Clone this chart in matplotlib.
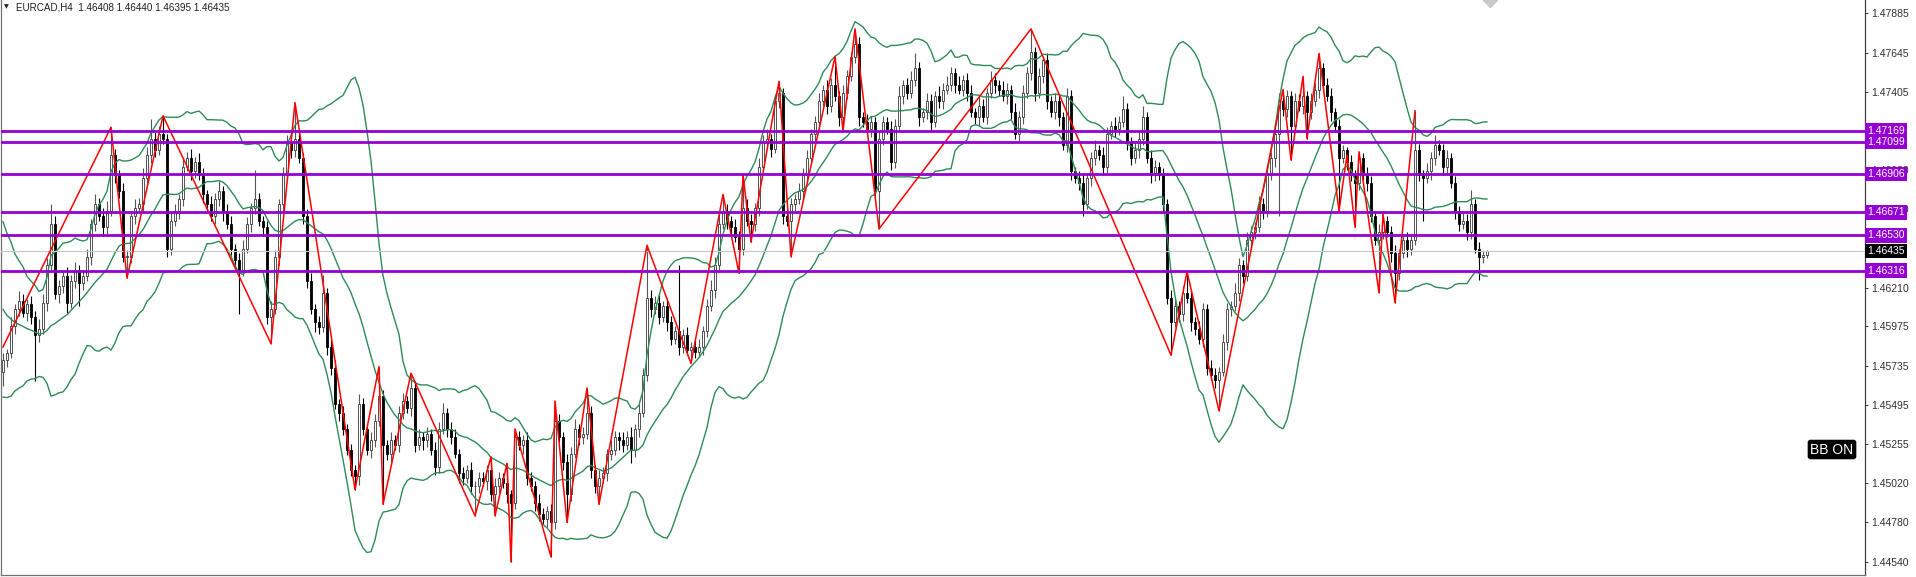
import numpy as np
import pandas as pd
import matplotlib
matplotlib.use("Agg")
import matplotlib.pyplot as plt
from matplotlib.transforms import blended_transform_factory

plt.rcParams['font.family'] = ['Liberation Sans', 'DejaVu Sans']

# --- data ---
symbol = "EURCAD,H4"
last_ohlc = [1.46408, 1.46440, 1.46395, 1.46435]

# closes before the first visible bar (only feed the bands)
warmup_close = [1.4648, 1.4655, 1.4642, 1.4650, 1.4636, 1.4630, 1.4638, 1.4622, 1.4615, 1.4620,
                1.4605, 1.4598, 1.4603, 1.4590, 1.4585, 1.4592, 1.4578, 1.4572, 1.4580, 1.4570]

close = [
    1.4577, 1.4581, 1.4598, 1.4608, 1.4613, 1.4606, 1.4611, 1.4603, 1.4592, 1.4596,
    1.4612, 1.4635, 1.4660, 1.4617, 1.4622, 1.4628, 1.4612, 1.4625, 1.4632, 1.4624,
    1.4628, 1.4640, 1.4660, 1.4672, 1.4665, 1.4658, 1.4668, 1.4702, 1.4690, 1.4680,
    1.4640, 1.4640, 1.4665, 1.4670, 1.4672, 1.4688, 1.4702, 1.4712, 1.4705, 1.4715,
    1.4712, 1.4645, 1.4662, 1.4668, 1.4675, 1.4695, 1.4700, 1.4692, 1.4698, 1.4690,
    1.4678, 1.4672, 1.4665, 1.4675, 1.4680, 1.4668, 1.4660, 1.4645, 1.4638, 1.4632,
    1.4645, 1.4660, 1.4670, 1.4675, 1.4662, 1.4658, 1.4603, 1.4608, 1.4640, 1.4672,
    1.4690, 1.4710, 1.4705, 1.4712, 1.4700, 1.4665, 1.4625, 1.4608, 1.4600, 1.4597,
    1.4618, 1.4585, 1.4572, 1.4550, 1.4545, 1.4535, 1.4522, 1.4510, 1.4506, 1.4550,
    1.4535, 1.4522, 1.4528, 1.4540, 1.4555, 1.4525, 1.4520, 1.4528, 1.4525, 1.4545,
    1.4552, 1.4548, 1.4560, 1.4525, 1.4530, 1.4528, 1.4532, 1.4522, 1.4512, 1.4535,
    1.4545, 1.4535, 1.4530, 1.4520, 1.4508, 1.4505, 1.4510, 1.4500, 1.4500, 1.4505,
    1.4503, 1.4510, 1.4495, 1.4500, 1.4505, 1.4502, 1.4495, 1.4490, 1.4530, 1.4525,
    1.4528, 1.4505, 1.4500, 1.4490, 1.4483, 1.4480, 1.4485, 1.4478, 1.4540, 1.4530,
    1.4515, 1.4495, 1.4520, 1.4535, 1.4530, 1.4532, 1.4545, 1.4510, 1.4500, 1.4505,
    1.4508, 1.4520, 1.4522, 1.4530, 1.4528, 1.4525, 1.4530, 1.4522, 1.4535, 1.4545,
    1.4568, 1.4615, 1.4608, 1.4612, 1.4603, 1.4610, 1.4600, 1.4590, 1.4595, 1.4585,
    1.4592, 1.4583, 1.4585, 1.4582, 1.4585, 1.4595, 1.4610, 1.4620, 1.4635, 1.4660,
    1.4668, 1.4662, 1.4658, 1.4652, 1.4645, 1.4670, 1.4662, 1.4660, 1.4670, 1.4695,
    1.4710, 1.4712, 1.4706, 1.4735, 1.4740, 1.4665, 1.4662, 1.4672, 1.4675, 1.4680,
    1.4690, 1.4700, 1.4715, 1.4722, 1.4735, 1.4742, 1.4732, 1.4745, 1.4738, 1.4725,
    1.4740, 1.4750, 1.4762, 1.4770, 1.4725, 1.4722, 1.4718, 1.4722, 1.4680, 1.4712,
    1.4722, 1.4718, 1.4698, 1.4720, 1.4738, 1.4745, 1.4740, 1.4748, 1.4755, 1.4725,
    1.4728, 1.4735, 1.4722, 1.4738, 1.4735, 1.4742, 1.4745, 1.4752, 1.4745, 1.4742,
    1.4748, 1.4740, 1.4728, 1.4725, 1.4732, 1.4725, 1.4740, 1.4748, 1.4745, 1.4742,
    1.4738, 1.4742, 1.4728, 1.4715, 1.4725, 1.4740, 1.4752, 1.4765, 1.4740, 1.4750,
    1.4760, 1.4735, 1.4728, 1.4735, 1.4725, 1.4708, 1.4738, 1.4692, 1.4688, 1.4685,
    1.4672, 1.4688, 1.4700, 1.4705, 1.4702, 1.4695, 1.4715, 1.4720, 1.4718, 1.4722,
    1.4730, 1.4710, 1.4700, 1.4705, 1.4712, 1.4725, 1.4700, 1.4690, 1.4695, 1.4690,
    1.4672, 1.4615, 1.4600, 1.4610, 1.4605, 1.4618, 1.4615, 1.4600, 1.4596, 1.4590,
    1.4608, 1.4572, 1.4568, 1.4565, 1.4570, 1.4588, 1.4608, 1.4610, 1.4618, 1.4635,
    1.4628, 1.4650, 1.4655, 1.4658, 1.4672, 1.4668, 1.4690, 1.4700, 1.4715, 1.4735,
    1.4730, 1.4738, 1.4720, 1.4735, 1.4732, 1.4738, 1.4728, 1.4735, 1.4742, 1.4755,
    1.4745, 1.4738, 1.4728, 1.4720, 1.4700, 1.4705, 1.4698, 1.4690, 1.4685, 1.4700,
    1.4690, 1.4685, 1.4665, 1.4650, 1.4655, 1.4662, 1.4655, 1.4642, 1.4630, 1.4642,
    1.4650, 1.4645, 1.4650, 1.4705, 1.4690, 1.4688, 1.4692, 1.4700, 1.4708, 1.4705,
    1.4695, 1.4700, 1.4685, 1.4668, 1.4660, 1.4662, 1.4655, 1.4672, 1.4645, 1.4640,
    1.46408, 1.46435,
]

# wick lengths above / below the body, in pips
wick_up = [
    4, 3, 5, 3, 6, 4, 3, 5, 4, 6, 5, 4, 12, 5, 4, 3, 6, 4, 5, 3,
    4, 5, 3, 6, 4, 5, 6, 17, 4, 3, 5, 4, 3, 5, 4, 6, 5, 12, 4, 5,
    11, 3, 5, 4, 3, 5, 4, 6, 3, 5, 4, 3, 5, 4, 6, 3, 4, 5, 3, 4,
    5, 4, 3, 18, 4, 3, 4, 5, 4, 3, 5, 4, 6, 22, 4, 3, 4, 5, 3, 4,
    11, 3, 4, 5, 3, 4, 3, 4, 3, 6, 4, 3, 5, 4, 18, 4, 3, 5, 3, 4,
    5, 3, 9, 4, 5, 3, 4, 3, 5, 4, 6, 3, 4, 5, 3, 4, 3, 5, 3, 4,
    4, 3, 8, 5, 4, 3, 12, 3, 5, 4, 3, 5, 4, 3, 5, 4, 3, 4, 12, 4,
    3, 5, 4, 6, 3, 4, 15, 4, 3, 5, 4, 3, 6, 4, 3, 5, 4, 6, 3, 5,
    4, 32, 5, 4, 6, 3, 5, 4, 3, 40, 4, 5, 3, 4, 5, 3, 4, 6, 5, 6,
    10, 4, 3, 5, 4, 20, 5, 4, 3, 5, 4, 6, 3, 4, 7, 3, 5, 4, 3, 5,
    4, 5, 3, 4, 5, 3, 6, 4, 17, 3, 5, 4, 3, 9, 4, 3, 5, 4, 3, 5,
    4, 3, 5, 4, 6, 3, 4, 5, 9, 4, 3, 5, 4, 3, 6, 4, 5, 4, 3, 5,
    3, 4, 5, 3, 6, 4, 3, 5, 4, 3, 5, 4, 3, 6, 4, 5, 4, 14, 3, 5,
    2, 4, 3, 5, 4, 3, 5, 4, 3, 4, 5, 3, 4, 6, 3, 5, 4, 3, 5, 4,
    8, 4, 3, 5, 4, 7, 3, 5, 4, 3, 4, 3, 5, 4, 3, 4, 13, 4, 3, 5,
    4, 3, 5, 4, 3, 5, 4, 3, 6, 4, 3, 5, 4, 3, 5, 4, 6, 4, 3, 5,
    7, 4, 3, 5, 4, 12, 3, 5, 4, 9, 3, 4, 5, 3, 4, 3, 2, 4, 3, 4,
    3, 5, 4, 3, 5, 4, 3, 4, 5, 3, 4, 5, 3, 24, 4, 3, 5, 4, 6, 3,
    4, 5, 3, 4, 3, 5, 4, 9, 3, 4, 3, 0.5,
]
wick_dn = [
    9, 4, 3, 5, 4, 3, 5, 4, 28, 4, 3, 5, 4, 3, 5, 4, 6, 3, 4, 14,
    4, 3, 5, 4, 3, 5, 4, 3, 5, 4, 3, 13, 4, 5, 3, 4, 3, 5, 4, 3,
    3, 5, 4, 3, 5, 4, 3, 5, 4, 3, 5, 4, 3, 5, 4, 6, 3, 4, 5, 27,
    4, 3, 5, 4, 3, 5, 4, 16, 3, 5, 4, 3, 5, 4, 3, 5, 4, 3, 6, 4,
    3, 5, 4, 3, 5, 4, 3, 4, 8, 5, 4, 3, 5, 4, 3, 36, 4, 5, 3, 4,
    4, 3, 5, 4, 3, 6, 4, 3, 5, 4, 3, 5, 4, 3, 6, 4, 3, 5, 18, 4,
    3, 5, 4, 13, 4, 3, 5, 36, 4, 3, 5, 4, 3, 5, 4, 3, 5, 21, 4, 3,
    5, 17, 4, 3, 5, 4, 3, 5, 4, 11, 3, 5, 4, 3, 6, 4, 3, 8, 4, 5,
    3, 4, 5, 3, 4, 3, 5, 4, 3, 5, 4, 3, 8, 4, 3, 5, 4, 3, 5, 4,
    3, 5, 4, 3, 15, 4, 3, 11, 4, 5, 3, 4, 5, 3, 4, 5, 3, 22, 4, 3,
    5, 4, 3, 5, 4, 3, 5, 4, 3, 5, 8, 4, 3, 4, 5, 3, 4, 5, 3, 23,
    4, 3, 5, 4, 3, 5, 4, 3, 4, 5, 3, 4, 5, 3, 4, 5, 3, 4, 5, 3,
    4, 5, 3, 4, 5, 3, 4, 3, 5, 4, 3, 5, 4, 3, 5, 4, 3, 4, 5, 3,
    4, 5, 3, 4, 5, 3, 4, 5, 3, 4, 7, 3, 5, 4, 3, 5, 4, 3, 5, 4,
    3, 5, 4, 3, 5, 4, 3, 5, 4, 3, 5, 4, 20, 3, 5, 4, 3, 5, 4, 3,
    5, 4, 3, 5, 19, 3, 5, 4, 3, 5, 4, 3, 5, 4, 3, 5, 4, 3, 5, 50,
    4, 5, 21, 4, 3, 5, 16, 4, 3, 5, 4, 3, 5, 4, 32, 3, 5, 4, 27, 4,
    3, 5, 4, 3, 32, 4, 3, 5, 18, 4, 3, 5, 4, 3, 4, 26, 3, 5, 4, 3,
    5, 4, 3, 5, 4, 3, 5, 4, 3, 14, 4, 1.3,
]

# zigzag turning points (bar index, price)
zz_idx = [0, 27, 31, 40, 67, 73, 88, 94, 95, 102, 118, 122, 123, 126, 127, 128, 137, 138,
          141, 146, 149, 161, 172, 180, 184, 185, 187, 194, 197, 208, 210, 213, 219, 257,
          292, 296, 304, 320, 322, 325, 326, 329, 334, 336, 338, 339, 344, 345, 348, 353]
zz_price = [1.4585, 1.4719, 1.4627, 1.4726, 1.4587, 1.4734, 1.4498, 1.4573, 1.4489, 1.4569,
            1.4482, 1.4518, 1.4482, 1.4514, 1.4454, 1.4535, 1.4457, 1.4552, 1.4478, 1.4560,
            1.4489, 1.4647, 1.4575, 1.4678, 1.4630, 1.4690, 1.4649, 1.4747, 1.4640, 1.4762,
            1.4717, 1.4779, 1.4657, 1.4779, 1.4580, 1.4631, 1.4546, 1.4742, 1.4699, 1.4750,
            1.4712, 1.4764, 1.4668, 1.4702, 1.4658, 1.4704, 1.4618, 1.4666, 1.4612, 1.4729]

levels = [1.47169, 1.47099, 1.46906, 1.46671, 1.46530, 1.46316]
price_ticks = [1.47885, 1.47645, 1.47405, 1.47165, 1.46930, 1.46690, 1.46450, 1.46210,
               1.45975, 1.45735, 1.45495, 1.45255, 1.45020, 1.44780, 1.44540]
# these labels sit fully under the level boxes, so they are not drawn
hidden_ticks = [1.47165, 1.46450]

PIP = 0.0001
W, H = 1916, 577

c = np.array(close)
o = np.concatenate([[warmup_close[-1]], c[:-1]])
hi = np.maximum(o, c) + np.array(wick_up) * PIP
lo = np.minimum(o, c) - np.array(wick_dn) * PIP
x = np.arange(len(c))

# bollinger bands 20 / 2
allc = pd.Series(warmup_close + close)
mid = allc.rolling(20).mean().values[len(warmup_close):]
sd = allc.rolling(20).std(ddof=0).values[len(warmup_close):]
upper = mid + 2 * sd
lower = mid - 2 * sd

fig = plt.figure(figsize=(W / 100, H / 100), dpi=100)
ax = fig.add_axes([1 / W, 2 / H, 1864 / W, 575 / H])
ax.set_xlim(-0.5, 465.5)
ax.set_ylim(1.44459, 1.47966)

bull = c >= o
bear = ~bull
body_lo = np.minimum(o, c)
body_h = np.maximum(np.abs(c - o), 0.00003)

ax.vlines(x[bull], lo[bull], hi[bull], colors='#555555', lw=0.8, zorder=1)
ax.vlines(x[bear], lo[bear], hi[bear], colors='black', lw=0.8, zorder=1)
ax.bar(x[bull], body_h[bull], bottom=body_lo[bull], width=0.62, facecolor='white',
       edgecolor='#383838', lw=0.6, zorder=2)
ax.bar(x[bear], body_h[bear], bottom=body_lo[bear], width=0.62, facecolor='black',
       edgecolor='black', lw=0.6, zorder=2)

for band in (upper, mid, lower):
    ax.plot(x, band, color='#2e8b57', lw=1.0, zorder=3)

ax.plot(zz_idx, zz_price, color='#ff0000', lw=1.1, zorder=4)

ax.axhline(last_ohlc[3], color='#c8c8c8', lw=0.8, zorder=3)
for lv in levels:
    ax.axhline(lv, color='#9400d3', lw=2.0, zorder=5)

# shift marker at the top
ax.plot([371.8], [1.47966], marker='D', ms=7, color='#c8c8c8', clip_on=True, zorder=6)

# axes look
ax.spines['top'].set_visible(False)
ax.spines['left'].set_color('#707070')
ax.spines['bottom'].set_color('#707070')
ax.spines['right'].set_color('#404040')
for s in ('left', 'bottom', 'right'):
    ax.spines[s].set_linewidth(0.9)
ax.set_xticks([])
ax.yaxis.tick_right()
ax.set_yticks(price_ticks)
ax.set_yticklabels(["" if p in hidden_ticks else f"{p:.5f}" for p in price_ticks])
ax.tick_params(axis='y', direction='out', length=2.5, width=0.7, pad=2,
               labelsize=7.5, colors='#303030')

tr = blended_transform_factory(ax.transAxes, ax.transData)
for lv in levels:
    ax.text(1.0012, lv, f"{lv:.5f}", transform=tr, ha='left', va='center', fontsize=7.5,
            color='white', clip_on=False, zorder=10,
            bbox=dict(boxstyle='square,pad=0.22', fc='#9400d3', ec='none'))
ax.text(1.0012, last_ohlc[3], f"{last_ohlc[3]:.5f}", transform=tr, ha='left', va='center',
        fontsize=7.5, color='white', clip_on=False, zorder=10,
        bbox=dict(boxstyle='square,pad=0.22', fc='black', ec='none'))

fig.text(6 / W, 1 - 6.5 / H, '\u25bc', fontsize=4.5, family='DejaVu Sans',
         ha='center', va='center', color='#202020')
fig.text(16 / W, 1 - 7 / H,
         f"{symbol}  " + " ".join(f"{v:.5f}" for v in last_ohlc),
         fontsize=7.1, ha='left', va='center', color='#202020')

fig.text(1832 / W, 1 - 449.5 / H, 'BB ON', fontsize=10, color='white',
         ha='center', va='center',
         bbox=dict(boxstyle='round,pad=0.2,rounding_size=0.2', fc='black', ec='none'))

fig.savefig('out.png', dpi=100)
